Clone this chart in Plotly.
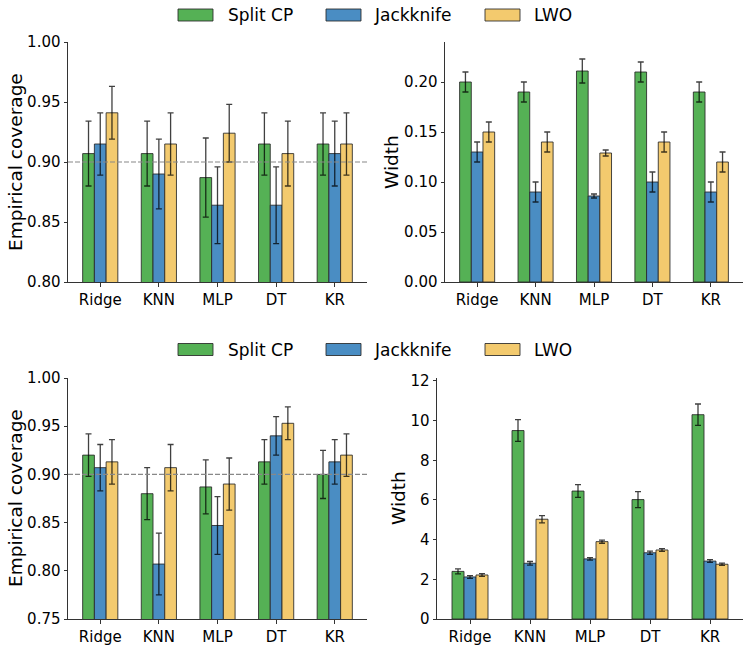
import plotly.graph_objects as go
from plotly.subplots import make_subplots

models = ["Ridge", "KNN", "MLP", "DT", "KR"]
methods = ["Split CP", "Jackknife", "LWO"]
colors = ["#55b155", "#4a8dc3", "#f3ca6e"]

# Top row: coverage
cov1_split = [0.907, 0.907, 0.887, 0.915, 0.915]
cov1_split_err = [0.027, 0.027, 0.033, 0.026, 0.026]
cov1_jack = [0.915, 0.890, 0.864, 0.864, 0.907]
cov1_jack_err = [0.026, 0.029, 0.032, 0.032, 0.027]
cov1_lwo = [0.941, 0.915, 0.924, 0.907, 0.915]
cov1_lwo_err = [0.022, 0.026, 0.024, 0.027, 0.026]

# Top row: width
width1_split = [0.200, 0.190, 0.211, 0.210, 0.190]
width1_split_err = [0.010, 0.010, 0.012, 0.010, 0.010]
width1_jack = [0.130, 0.090, 0.086, 0.100, 0.090]
width1_jack_err = [0.010, 0.010, 0.002, 0.010, 0.010]
width1_lwo = [0.150, 0.140, 0.129, 0.140, 0.120]
width1_lwo_err = [0.010, 0.010, 0.003, 0.010, 0.010]

# Bottom row: coverage
cov2_split = [0.920, 0.880, 0.887, 0.913, 0.900]
cov2_split_err = [0.022, 0.027, 0.028, 0.023, 0.025]
cov2_jack = [0.907, 0.807, 0.847, 0.940, 0.913]
cov2_jack_err = [0.024, 0.032, 0.030, 0.020, 0.023]
cov2_lwo = [0.913, 0.907, 0.890, 0.953, 0.920]
cov2_lwo_err = [0.023, 0.024, 0.027, 0.017, 0.022]

# Bottom row: width
width2_split = [2.40, 9.50, 6.45, 6.02, 10.30]
width2_split_err = [0.13, 0.55, 0.32, 0.40, 0.54]
width2_jack = [2.12, 2.81, 3.03, 3.34, 2.92]
width2_jack_err = [0.07, 0.09, 0.06, 0.08, 0.07]
width2_lwo = [2.22, 5.03, 3.90, 3.48, 2.76]
width2_lwo_err = [0.07, 0.18, 0.08, 0.07, 0.06]

panels = [
    (1, 1, [(cov1_split, cov1_split_err), (cov1_jack, cov1_jack_err), (cov1_lwo, cov1_lwo_err)]),
    (1, 2, [(width1_split, width1_split_err), (width1_jack, width1_jack_err), (width1_lwo, width1_lwo_err)]),
    (2, 1, [(cov2_split, cov2_split_err), (cov2_jack, cov2_jack_err), (cov2_lwo, cov2_lwo_err)]),
    (2, 2, [(width2_split, width2_split_err), (width2_jack, width2_jack_err), (width2_lwo, width2_lwo_err)]),
]

W, H = 750, 647
FONT = "DejaVu Sans"

fig = make_subplots(rows=2, cols=2)

for r, c, series in panels:
    for i, (vals, errs) in enumerate(series):
        fig.add_trace(go.Bar(
            x=list(range(len(models))), y=vals, name=methods[i],
            marker=dict(color=colors[i], line=dict(color="rgba(40,40,40,0.85)", width=1)),
            error_y=dict(type="data", array=errs, color="rgba(0,0,0,0.75)", thickness=1.3, width=3),
            showlegend=False,
        ), row=r, col=c)

def px_x(a, b):
    return [a / W, b / W]

def px_y(top, bottom):
    return [1 - bottom / H, 1 - top / H]

axis_common = dict(showline=True, linecolor="#333333", linewidth=1, ticks="outside",
                   ticklen=3.5, tickwidth=1, tickcolor="#333333", showgrid=False,
                   zeroline=False, automargin=False,
                   tickfont=dict(family=FONT, size=15, color="black"))

xcommon = dict(axis_common, tickmode="array", tickvals=list(range(len(models))),
               ticktext=models, range=[-0.55, 4.55])

fig.update_layout(
    xaxis=dict(xcommon, domain=px_x(68, 367)),
    xaxis2=dict(xcommon, domain=px_x(445, 743)),
    xaxis3=dict(xcommon, domain=px_x(68, 367)),
    xaxis4=dict(xcommon, domain=px_x(437, 743)),
    yaxis=dict(axis_common, domain=px_y(42, 282), range=[0.80, 1.00], dtick=0.05, tick0=0.8, tickformat=".2f"),
    yaxis2=dict(axis_common, domain=px_y(42, 282), range=[0.0, 0.24], dtick=0.05, tick0=0, tickformat=".2f"),
    yaxis3=dict(axis_common, domain=px_y(378, 619), range=[0.75, 1.00], dtick=0.05, tick0=0.75, tickformat=".2f"),
    yaxis4=dict(axis_common, domain=px_y(378, 619), range=[0, 12.15], dtick=2, tick0=0),
    barmode="group", bargap=0.4, bargroupgap=0,
    width=W, height=H, margin=dict(l=0, r=0, t=0, b=0, pad=0, autoexpand=False),
    plot_bgcolor="white", paper_bgcolor="white",
    font=dict(family=FONT, color="black"),
)

# reference line at 0.9 on coverage panels
for xr, yr in [("x", "y"), ("x3", "y3")]:
    fig.add_shape(type="line", xref=f"{xr} domain", yref=yr, x0=0, x1=1, y0=0.9, y1=0.9,
                  line=dict(color="#888888", width=1.2, dash="5px,2px"), layer="above")

# axis titles
titles = [("Empirical coverage", 15, 162), ("Width", 391, 162),
          ("Empirical coverage", 15, 498), ("Width", 398, 498)]
for text, xp, yp in titles:
    fig.add_annotation(text=text, xref="paper", yref="paper", x=xp / W, y=1 - yp / H,
                       xanchor="center", yanchor="middle", textangle=-90, showarrow=False,
                       font=dict(family=FONT, size=18.5, color="black"))

# manual legends
patch_x = [(178, 213), (326, 361), (485, 520)]
text_x = [226, 372, 532]
for yc in [15, 349.5]:
    for i in range(3):
        x0, x1 = patch_x[i]
        fig.add_shape(type="rect", xref="paper", yref="paper",
                      x0=x0 / W, x1=x1 / W, y0=1 - (yc + 6) / H, y1=1 - (yc - 6) / H,
                      fillcolor=colors[i], line=dict(color="rgba(40,40,40,0.85)", width=1))
        fig.add_annotation(text=methods[i], xref="paper", yref="paper", x=text_x[i] / W,
                           y=1 - yc / H, xanchor="left", yanchor="middle", showarrow=False,
                           font=dict(family=FONT, size=17, color="black"))

fig.write_html("out.html")
